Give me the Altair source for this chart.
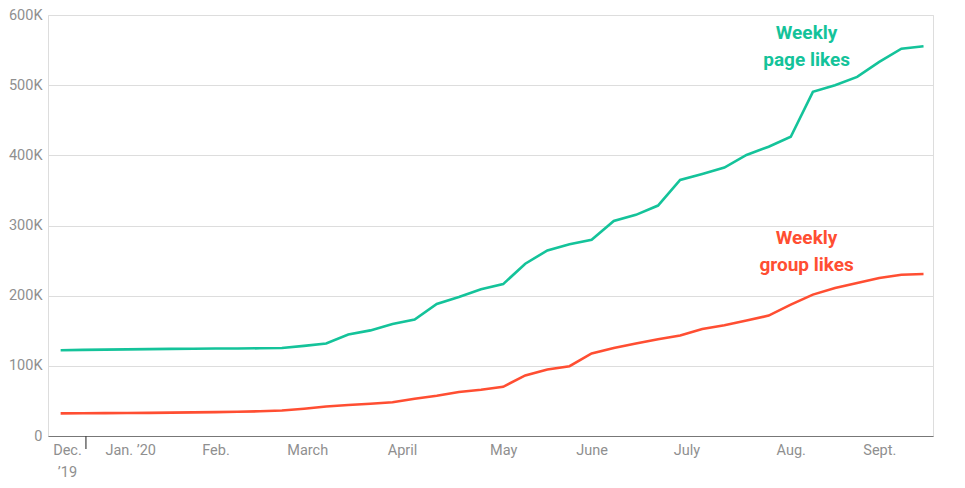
import altair as alt
import pandas as pd
import numpy as np

# Weekly data points (40 weeks)
start_date = "2019-12-24"
n_weeks = 40

page_likes = [122.3, 122.7, 123.1, 123.5, 123.8, 124.1, 124.4, 124.6, 124.8, 125.0,
              125.5, 128.4, 131.8, 144.6, 150.5, 159.7, 165.9, 188.1, 198.0, 209.0,
              216.5, 245.5, 264.5, 273.4, 279.7, 306.4, 315.2, 328.4, 365.0, 373.5,
              382.5, 400.5, 412.3, 426.5, 490.5, 500.0, 511.8, 533.2, 552.0, 555.5]

group_likes = [32.3, 32.4, 32.6, 32.7, 33.0, 33.3, 33.6, 34.0, 34.5, 35.3,
               36.3, 38.8, 42.0, 44.1, 45.9, 48.0, 53.0, 57.3, 62.6, 65.8,
               70.1, 86.3, 94.8, 99.5, 117.6, 125.5, 131.8, 137.9, 143.3, 152.6,
               157.8, 164.5, 171.6, 187.2, 201.5, 210.9, 218.0, 225.1, 229.9, 230.8]

series_names = ["Weekly page likes", "Weekly group likes"]
series_colors = ["#14c39a", "#ff4e32"]

# x-axis label anchor dates and texts
label_dates = [(2019, 12, 26), (2020, 1, 15), (2020, 2, 11), (2020, 3, 11), (2020, 4, 10),
               (2020, 5, 12), (2020, 6, 9), (2020, 7, 9), (2020, 8, 11), (2020, 9, 8)]
y_ticks = [0, 100000, 200000, 300000, 400000, 500000, 600000]

# Annotation lines
annot_text = ["Weekly", "page likes", "Weekly", "group likes"]
annot_series = ["Weekly page likes", "Weekly page likes", "Weekly group likes", "Weekly group likes"]
annot_date = ["2020-08-16", "2020-08-16", "2020-08-16", "2020-08-16"]
annot_value = [566000, 528000, 273000, 235000]

dates = pd.date_range(start_date, periods=n_weeks, freq="7D")
df = pd.DataFrame({
    "date": list(dates.strftime("%Y-%m-%d")) * 2,
    "value": [v * 1000 for v in page_likes] + [v * 1000 for v in group_likes],
    "series": [series_names[0]] * n_weeks + [series_names[1]] * n_weeks,
})

ann = pd.DataFrame({"date": annot_date, "value": annot_value,
                    "text": annot_text, "series": annot_series})
tick_df = pd.DataFrame({"date": ["2020-01-01"]})

color_scale = alt.Scale(domain=series_names, range=series_colors)
x_scale = alt.Scale(type="utc",
                    domain=[alt.DateTime(year=2019, month=12, date=20, utc=True),
                            alt.DateTime(year=2020, month=9, date=25, utc=True)])
y_scale = alt.Scale(domain=[0, 600000])

label_expr = ("[\"Jan. ’20\", 'Feb.', 'March', 'April', 'May', 'June', 'July', 'Aug.', 'Sept.', 'Oct.', 'Nov.', ['Dec.', '’19']]"
              "[utcmonth(datum.value)]")

x_axis = alt.Axis(
    values=[alt.DateTime(year=y, month=m, date=d, utc=True) for (y, m, d) in label_dates],
    labelExpr=label_expr, ticks=False, grid=False, title=None,
    domainColor="#777777", domainWidth=1.2, labelColor="#8f8f8f",
    labelFont="Roboto", labelFontSize=14.5, labelPadding=7, labelLineHeight=22,
    labelAlign="center", labelBaseline="top", labelFlush=False,
)
y_axis = alt.Axis(
    values=y_ticks, labelExpr="datum.value == 0 ? '0' : (datum.value/1000) + 'K'",
    ticks=False, domain=False, title=None, gridColor="#dddddd", gridWidth=1.2,
    labelColor="#8f8f8f", labelFont="Roboto", labelFontSize=14.5, labelPadding=6,
)

lines = alt.Chart(df).mark_line(strokeWidth=2.6).encode(
    x=alt.X("date:T", scale=x_scale, axis=x_axis),
    y=alt.Y("value:Q", scale=y_scale, axis=y_axis),
    color=alt.Color("series:N", scale=color_scale, legend=None),
    detail="series:N",
)

labels = alt.Chart(ann).mark_text(font="Roboto", fontWeight="bold", fontSize=19,
                                  align="center", baseline="alphabetic").encode(
    x=alt.X("date:T", scale=x_scale),
    y=alt.Y("value:Q", scale=y_scale),
    text="text:N",
    color=alt.Color("series:N", scale=color_scale, legend=None),
)

tick = alt.Chart(tick_df).mark_rule(color="#444444", strokeWidth=1.2).encode(
    x=alt.X("date:T", scale=x_scale),
    y=alt.value(421), y2=alt.value(434),
)

chart = alt.layer(lines, labels, tick).properties(
    width=885, height=421,
    autosize=alt.AutoSizeParams(type="none"),
    padding={"left": 40, "top": 7, "right": 10, "bottom": 50},
).configure_view(stroke=None).configure(background="white")

chart.save("out.html", embed_options={"renderer": "svg", "actions": False})
